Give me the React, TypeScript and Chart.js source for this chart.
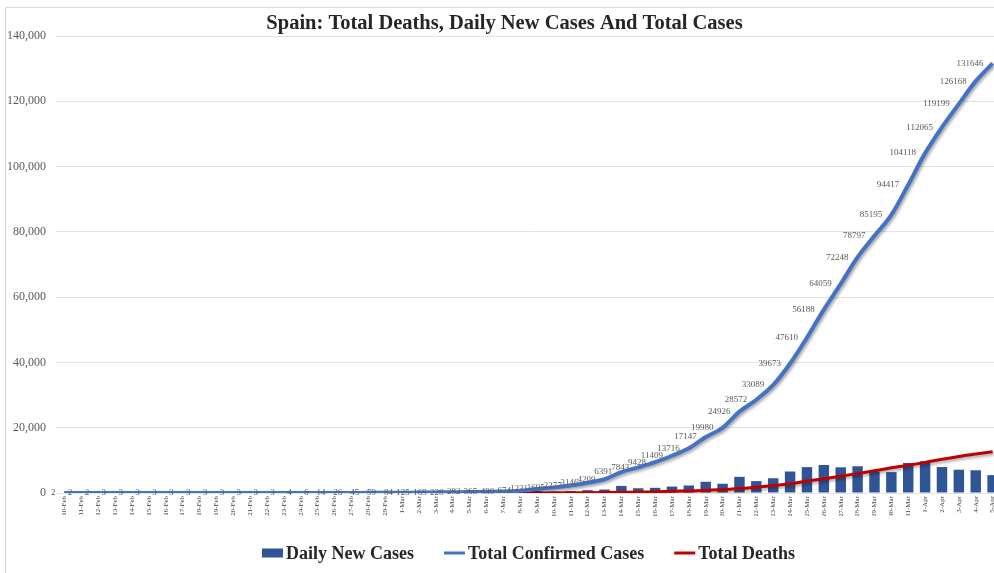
import React, { useEffect, useRef } from 'react';
import { Chart, registerables } from 'chart.js';

Chart.register(...registerables);

const FONT = '"Liberation Serif", "Times New Roman", serif';

const dates = [
  '10-Feb', '11-Feb', '12-Feb', '13-Feb', '14-Feb', '15-Feb', '16-Feb', '17-Feb', '18-Feb', '19-Feb',
  '20-Feb', '21-Feb', '22-Feb', '23-Feb', '24-Feb', '25-Feb', '26-Feb', '27-Feb', '28-Feb', '29-Feb',
  '1-Mar', '2-Mar', '3-Mar', '4-Mar', '5-Mar', '6-Mar', '7-Mar', '8-Mar', '9-Mar', '10-Mar',
  '11-Mar', '12-Mar', '13-Mar', '14-Mar', '15-Mar', '16-Mar', '17-Mar', '18-Mar', '19-Mar', '20-Mar',
  '21-Mar', '22-Mar', '23-Mar', '24-Mar', '25-Mar', '26-Mar', '27-Mar', '28-Mar', '29-Mar', '30-Mar',
  '31-Mar', '1-Apr', '2-Apr', '3-Apr', '4-Apr', '5-Apr',
];

const dailyNewCases = [
  0, 0, 0, 1, 0, 0, 0, 0, 0, 0, 0, 0, 0, 0, 1, 2, 8, 12, 19, 14,
  25, 41, 44, 59, 54, 83, 65, 244, 557, 464,
  582, 869, 1063, 2182, 1452, 1585, 1981, 2307, 3431, 2833,
  4946, 3646, 4517, 6584, 7937, 8578, 7871, 8189, 6549, 6398,
  9222, 9701, 7947, 7134, 6969, 5478,
];

const totalConfirmedCases = [
  2, 2, 2, 3, 3, 3, 3, 3, 3, 3, 3, 3, 3, 3, 4, 6, 14, 26, 45, 59,
  84, 125, 169, 228, 282, 365, 430, 674, 1231, 1695,
  2277, 3146, 4209, 6391, 7843, 9428, 11409, 13716, 17147, 19980,
  24926, 28572, 33089, 39673, 47610, 56188, 64059, 72248, 78797, 85195,
  94417, 104118, 112065, 119199, 126168, 131646,
];

const totalDeaths = [
  0, 0, 0, 0, 0, 0, 0, 0, 0, 0, 0, 0, 0, 0, 0, 0, 0, 0, 0, 0,
  0, 0, 1, 2, 3, 5, 10, 17, 28, 35,
  54, 84, 133, 195, 289, 342, 533, 623, 830, 1043,
  1375, 1772, 2311, 2808, 3647, 4365, 5138, 5982, 6803, 7716,
  8464, 9387, 10348, 11198, 11947, 12641,
];

const yMin = 0;
const yMax = 140000;
const yStep = 20000;

const BAR_COLOR = '#2F5597';
const CASES_COLOR = '#4472C4';
const DEATHS_COLOR = '#C00000';

const framePlugin = {
  id: 'frame',
  beforeDraw(chart: any) {
    const ctx = chart.ctx;
    ctx.save();
    ctx.fillStyle = '#ffffff';
    ctx.fillRect(0, 0, chart.width, chart.height);
    ctx.strokeStyle = '#d9d9d9';
    ctx.lineWidth = 1;
    ctx.strokeRect(5.5, 7.5, chart.width + 20, chart.height + 20);
    ctx.restore();
  },
};

const shadowPlugin = {
  id: 'lineShadow',
  beforeDatasetDraw(chart: any, args: any) {
    if (args.index === 1 || args.index === 2) {
      const ctx = chart.ctx;
      ctx.save();
      ctx.shadowColor = 'rgba(0,0,0,0.35)';
      ctx.shadowBlur = 3;
      ctx.shadowOffsetX = 1.5;
      ctx.shadowOffsetY = 2;
    }
  },
  afterDatasetDraw(chart: any, args: any) {
    if (args.index === 1 || args.index === 2) {
      chart.ctx.restore();
    }
  },
};

const valueLabelPlugin = {
  id: 'valueLabels',
  afterDatasetsDraw(chart: any) {
    const meta = chart.getDatasetMeta(1);
    const data = chart.data.datasets[1].data as number[];
    const ctx = chart.ctx;
    ctx.save();
    ctx.font = `9px ${FONT}`;
    ctx.fillStyle = '#595959';
    ctx.textAlign = 'right';
    ctx.textBaseline = 'middle';
    meta.data.forEach((el: any, i: number) => {
      ctx.fillText(String(data[i]), el.x - 9, el.y);
    });
    ctx.restore();
  },
};

// Legend drawn below the axis, centred on the plot area
const bottomLegendPlugin = {
  id: 'bottomLegend',
  afterDraw(chart: any) {
    const ctx = chart.ctx;
    const area = chart.chartArea;
    const markerW = 21;
    const markerGap = 3;
    const itemGap = 30;
    const y = 553;
    ctx.save();
    ctx.font = `bold 18px ${FONT}`;
    const items = chart.data.datasets.map((ds: any) => ({
      text: ds.label as string,
      type: ds.type,
      color: ds.type === 'bar' ? ds.backgroundColor : ds.borderColor,
      width: markerW + markerGap + ctx.measureText(ds.label).width,
    }));
    const total = items.reduce((s: number, it: any) => s + it.width, 0) + itemGap * (items.length - 1);
    let x = (area.left + area.right) / 2 - total / 2;
    ctx.textBaseline = 'middle';
    ctx.textAlign = 'left';
    items.forEach((it: any) => {
      if (it.type === 'bar') {
        ctx.fillStyle = it.color;
        ctx.fillRect(x, y - 4.5, markerW, 9);
      } else {
        ctx.strokeStyle = it.color;
        ctx.lineWidth = 3;
        ctx.beginPath();
        ctx.moveTo(x, y);
        ctx.lineTo(x + markerW, y);
        ctx.stroke();
      }
      ctx.fillStyle = '#262626';
      ctx.fillText(it.text, x + markerW + markerGap, y + 1);
      x += it.width + itemGap;
    });
    ctx.restore();
  },
};

export default function App() {
  const canvasRef = useRef<HTMLCanvasElement | null>(null);

  useEffect(() => {
    document.body.style.margin = '0';
    document.body.style.overflow = 'hidden';
    const canvas = canvasRef.current;
    if (!canvas) return;
    const chart = new Chart(canvas, {
      type: 'bar',
      data: {
        labels: dates,
        datasets: [
          {
            type: 'bar',
            label: 'Daily New Cases',
            data: dailyNewCases,
            backgroundColor: BAR_COLOR,
            borderWidth: 0,
            barPercentage: 0.62,
            categoryPercentage: 1,
            order: 3,
          },
          {
            type: 'line',
            label: 'Total Confirmed Cases',
            data: totalConfirmedCases,
            borderColor: CASES_COLOR,
            backgroundColor: CASES_COLOR,
            borderWidth: 4,
            pointRadius: 0,
            cubicInterpolationMode: 'monotone',
            order: 1,
          },
          {
            type: 'line',
            label: 'Total Deaths',
            data: totalDeaths,
            borderColor: DEATHS_COLOR,
            backgroundColor: DEATHS_COLOR,
            borderWidth: 3,
            pointRadius: 0,
            cubicInterpolationMode: 'monotone',
            order: 2,
          },
        ],
      },
      options: {
        responsive: false,
        animation: false,
        events: [],
        layout: { padding: { left: 0, right: -5, top: 0, bottom: 57 } },
        scales: {
          x: {
            grid: { display: false, drawTicks: false },
            border: { display: false },
            ticks: {
              autoSkip: false,
              maxRotation: 90,
              minRotation: 90,
              padding: 3,
              color: '#404040',
              font: { family: FONT, size: 7 },
            },
            afterFit(scale: any) {
              scale.height = 23;
            },
          },
          y: {
            min: yMin,
            max: yMax,
            grid: { color: '#e3e3e3', drawTicks: false },
            border: { display: false },
            ticks: {
              stepSize: yStep,
              padding: 10,
              color: '#595959',
              font: { family: FONT, size: 12 },
              callback: (v: any) => Number(v).toLocaleString('en-US'),
            },
            afterFit(scale: any) {
              scale.width = 56;
            },
          },
        },
        plugins: {
          tooltip: { enabled: false },
          legend: { display: false },
          title: {
            display: true,
            text: 'Spain: Total Deaths, Daily New Cases And Total Cases',
            color: '#262626',
            font: { family: FONT, size: 20.5, weight: 'bold' },
            padding: { top: 11, bottom: 0.4 },
          },
        },
      },
      plugins: [framePlugin, shadowPlugin, valueLabelPlugin, bottomLegendPlugin],
    } as any);
    return () => chart.destroy();
  }, []);

  return (
    <div style={{ width: 994, height: 573, overflow: 'hidden' }}>
      <canvas ref={canvasRef} width={1004} height={573} />
    </div>
  );
}
